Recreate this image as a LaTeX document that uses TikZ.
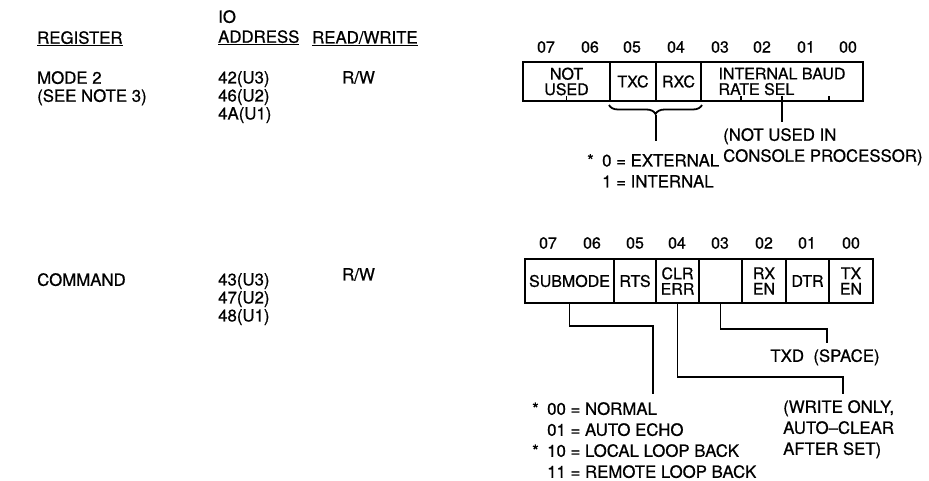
\documentclass[tikz,border=0pt]{standalone}
\usepackage{fontspec}
\setmainfont{TeX Gyre Heros}[FakeBold=0.7]
\usetikzlibrary{positioning,decorations.pathreplacing}

\begin{document}
\begin{tikzpicture}[x=1pt, y=-1pt,
    txt/.style={anchor=north west, inner sep=0pt, align=left, font=\fontsize{16.8}{18}\selectfont},
    note/.style={anchor=north west, inner sep=0pt, align=left, font=\fontsize{16.8}{21}\selectfont},
    field/.style={draw, line width=2pt, inner sep=0pt, align=center, font=\fontsize{16}{15.5}\selectfont},
    bitno/.style={inner sep=0pt, font=\fontsize{16}{16}\selectfont},
    wire/.style={line width=1.8pt},
    tick/.style={line width=1.4pt}
  ]
    \useasboundingbox (0,0) rectangle (929,481);

    \node[txt] (hreg) at (37,31) {\underline{REGISTER}};
    \node[txt] (hio) at (218,10) {IO\\[2pt]\underline{ADDRESS}};
    \node[txt] (hrw) at (312,31) {\underline{READ/WRITE}};

    \node[txt] (rmode) at (37,71) {MODE 2\\(SEE NOTE 3)};
    \node[txt] (amode) at (218,71) {42(U3)\\46(U2)\\4A(U1)};
    \node[txt] (wmode) at (342,71) {R/W};

    \node[txt] (rcmd) at (37,273) {COMMAND};
    \node[txt] (acmd) at (218,273) {43(U3)\\47(U2)\\48(U1)};
    \node[txt] (wcmd) at (342,268) {R/W};

    \node[bitno] (m7) at (546,47) {07};
    \node[bitno] (m6) at (590,47) {06};
    \node[bitno] (m5) at (632,47) {05};
    \node[bitno] (m4) at (676,47) {04};
    \node[bitno] (m3) at (720,47) {03};
    \node[bitno] (m2) at (762,47) {02};
    \node[bitno] (m1) at (806,47) {01};
    \node[bitno] (m0) at (848,47) {00};

    \node[field, minimum width=87, minimum height=39] (nu) at (566.5,81.5) {NOT\\USED};
    \node[field, minimum width=46, minimum height=39] (txc) at (633,81.5) {TXC};
    \node[field, minimum width=45, minimum height=39] (rxc) at (678.5,81.5) {RXC};
    \node[field, minimum width=162, minimum height=39, align=left] (baud) at (782,81.5) {INTERNAL BAUD\\RATE SEL};

    \draw[tick] (nu.south) -- ++(0,-6);
    \draw[tick] ([xshift=-41pt]baud.south) -- ++(0,-6);
    \draw[tick] ([xshift=47pt]baud.south) -- ++(0,-6);

    \draw[wire, decorate, decoration={brace, mirror, amplitude=9pt, raise=3pt}] (txc.south west) -- (rxc.south east);
    \coordinate (brtip) at (656,115);
    \node[note] (ext) at (587,154) {\makebox[15pt][l]{*}0 = EXTERNAL\\\makebox[15pt][l]{}1 = INTERNAL};
    \draw[wire, shorten >=13pt] (brtip) -- (brtip |- ext.north);

    \node[note] (nus) at (723,128) {(NOT USED IN\\CONSOLE PROCESSOR)};
    \draw[wire, shorten >=6pt] ([yshift=6pt]baud.south) -- (baud.south |- nus.north);

    \node[bitno] (c7) at (548,243) {07};
    \node[bitno] (c6) at (592,243) {06};
    \node[bitno] (c5) at (635,243) {05};
    \node[bitno] (c4) at (677,243) {04};
    \node[bitno] (c3) at (720,243) {03};
    \node[bitno] (c2) at (764,243) {02};
    \node[bitno] (c1) at (807,243) {01};
    \node[bitno] (c0) at (851,243) {00};

    \node[field, minimum width=89, minimum height=44] (sub) at (569.5,281) {SUBMODE};
    \node[field, minimum width=42, minimum height=44] (rts) at (635,281) {RTS};
    \node[field, minimum width=43, minimum height=44] (clr) at (677.5,281) {CLR\\ERR};
    \node[field, minimum width=43, minimum height=44] (blank) at (720.5,281) {};
    \node[field, minimum width=44, minimum height=44] (rxen) at (764,281) {RX\\EN};
    \node[field, minimum width=43, minimum height=44] (dtr) at (807.5,281) {DTR};
    \node[field, minimum width=44, minimum height=44] (txen) at (851,281) {TX\\EN};

    \node[txt, anchor=north] (txd) at (825,349) {TXD\ \ (SPACE)};
    \node[note] (modes) at (532,402) {\makebox[15pt][l]{*}00 = NORMAL\\\makebox[15pt][l]{}01 = AUTO ECHO\\\makebox[15pt][l]{*}10 = LOCAL LOOP BACK\\\makebox[15pt][l]{}11 = REMOTE LOOP BACK};
    \node[note] (wo) at (783,400) {(WRITE ONLY,\\AUTO--CLEAR\\AFTER SET)};

    \coordinate (subk) at (653,326);
    \coordinate (clrk) at (843,377);
    \coordinate (blk) at (827,329);
    \draw[wire, shorten >=8pt] (sub.south) |- (subk) -- (subk |- modes.north);
    \draw[wire, shorten >=6pt] (clr.south) |- (clrk) -- (clrk |- wo.north);
    \draw[wire, shorten >=6pt] (blank.south) |- (blk) -- (blk |- txd.north);
  \end{tikzpicture}
\end{document}
